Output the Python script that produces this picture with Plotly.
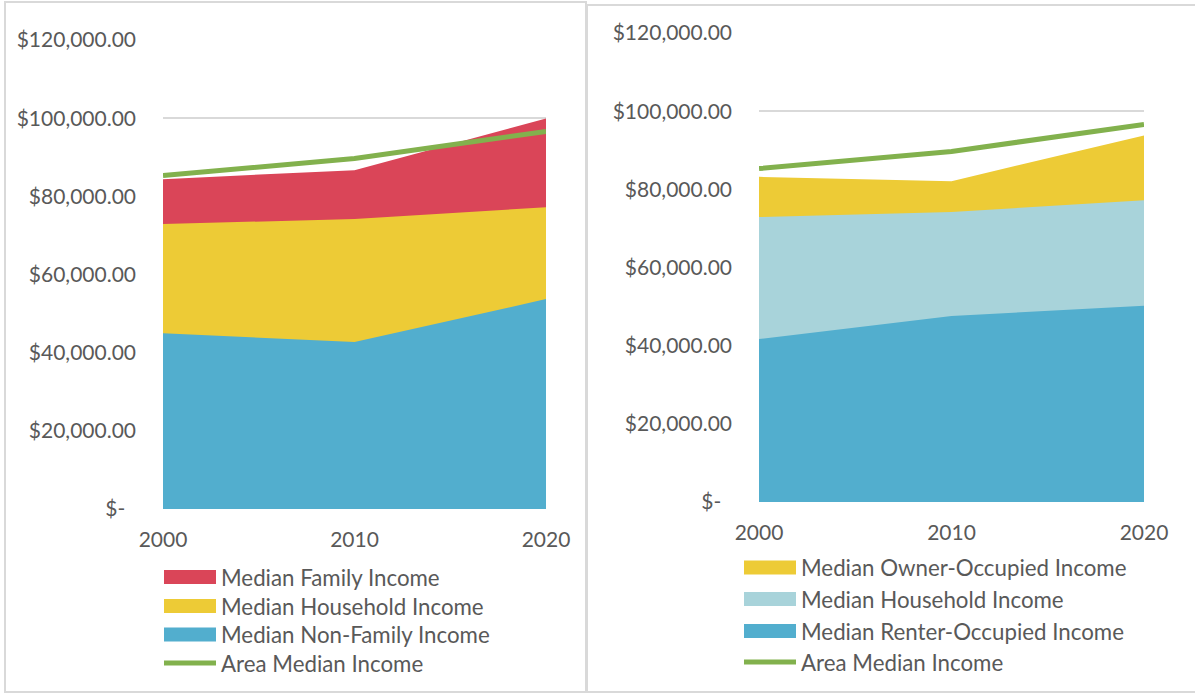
import plotly.graph_objects as go

years = [2000, 2010, 2020]
area_median = [85300, 89700, 96600]
family = [84400, 86700, 99900]
household = [72900, 74200, 77200]
non_family = [45000, 42700, 53700]
owner_occ = [83200, 82100, 93800]
renter_occ = [41700, 47600, 50200]

y_ticks = [0, 20000, 40000, 60000, 80000, 100000, 120000]
y_labels = ["$-\u00a0\u00a0"] + ["${:,.2f}".format(v) for v in y_ticks[1:]]
x_labels = ["2000", "2010", "2020"]

RED = "#DA4558"
YEL = "#EDCB36"
BLUE = "#52AECE"
LBLUE = "#A8D3DA"
GREEN = "#82B14D"
TXT = "#595959"
GRID = "#D9D9D9"
FONT = "Lato"

W, H = 1195, 695


def px(x):
    return x / W


def py(y):
    return 1 - y / H


fig = go.Figure()

# Left chart (overlapping areas, not stacked)
for vals, col in [(family, RED), (household, YEL), (non_family, BLUE)]:
    fig.add_trace(go.Scatter(x=years, y=vals, mode="lines", fill="tozeroy",
                             fillcolor=col, line=dict(width=0, color=col),
                             xaxis="x", yaxis="y", showlegend=False, hoverinfo="skip"))
fig.add_trace(go.Scatter(x=years, y=area_median, mode="lines",
                         line=dict(width=5, color=GREEN), xaxis="x", yaxis="y",
                         showlegend=False))

# Right chart
for vals, col in [(owner_occ, YEL), (household, LBLUE), (renter_occ, BLUE)]:
    fig.add_trace(go.Scatter(x=years, y=vals, mode="lines", fill="tozeroy",
                             fillcolor=col, line=dict(width=0, color=col),
                             xaxis="x2", yaxis="y2", showlegend=False, hoverinfo="skip"))
fig.add_trace(go.Scatter(x=years, y=area_median, mode="lines",
                         line=dict(width=5, color=GREEN), xaxis="x2", yaxis="y2",
                         showlegend=False))

xcommon = dict(range=[2000, 2020], tickvals=years, ticktext=x_labels, showgrid=False,
               zeroline=False, showline=False, ticks="", automargin=False,
               tickfont=dict(family=FONT, size=21, color=TXT), ticklabelstandoff=16)
ycommon = dict(range=[0, 120000], tickvals=y_ticks, ticktext=y_labels, showgrid=True,
               gridcolor=GRID, gridwidth=1.5, zeroline=False, showline=False, ticks="",
               automargin=False,
               tickfont=dict(family=FONT, size=21, color=TXT), ticklabelstandoff=26)

fig.update_layout(
    width=W, height=H,
    margin=dict(l=0, r=0, t=0, b=0, pad=0, autoexpand=False),
    showlegend=False,
    paper_bgcolor="white", plot_bgcolor="white",
    xaxis=dict(domain=[px(163), px(546)], anchor="y", **xcommon),
    yaxis=dict(domain=[py(509), py(40)], anchor="x", **ycommon),
    xaxis2=dict(domain=[px(759), px(1144)], anchor="y2", **xcommon),
    yaxis2=dict(domain=[py(502), py(33)], anchor="x2", **ycommon),
)

shapes = []
annotations = []

# panel borders
shapes.append(dict(type="rect", xref="paper", yref="paper", x0=px(5), x1=px(586),
                   y0=py(692), y1=py(2), line=dict(color=GRID, width=2), fillcolor="rgba(0,0,0,0)"))
shapes.append(dict(type="rect", xref="paper", yref="paper", x0=px(587), x1=px(1200),
                   y0=py(692), y1=py(5), line=dict(color=GRID, width=2), fillcolor="rgba(0,0,0,0)"))


def legend(items, sx0, sx1, tx):
    for label, col, kind, yc in items:
        if kind == "rect":
            shapes.append(dict(type="rect", xref="paper", yref="paper",
                               x0=px(sx0), x1=px(sx1), y0=py(yc + 7), y1=py(yc - 7),
                               fillcolor=col, line=dict(width=0)))
        else:
            shapes.append(dict(type="line", xref="paper", yref="paper",
                               x0=px(sx0), x1=px(sx1), y0=py(yc), y1=py(yc),
                               line=dict(color=col, width=5)))
        annotations.append(dict(xref="paper", yref="paper", x=px(tx), y=py(yc),
                                xanchor="left", yanchor="middle", showarrow=False,
                                text=label, font=dict(family=FONT, size=22.3, color=TXT)))


legend([("Median Family Income", RED, "rect", 577),
        ("Median Household Income", YEL, "rect", 606),
        ("Median Non-Family Income", BLUE, "rect", 634.5),
        ("Area Median Income", GREEN, "line", 663)], 164, 216, 219)

legend([("Median Owner-Occupied Income", YEL, "rect", 567.5),
        ("Median Household Income", LBLUE, "rect", 599),
        ("Median Renter-Occupied Income", BLUE, "rect", 631),
        ("Area Median Income", GREEN, "line", 662)], 744, 796, 799)

fig.update_layout(shapes=shapes, annotations=annotations)

fig.write_html("out.html", post_script="document.body.style.margin='0';",
               config={"displayModeBar": False})
